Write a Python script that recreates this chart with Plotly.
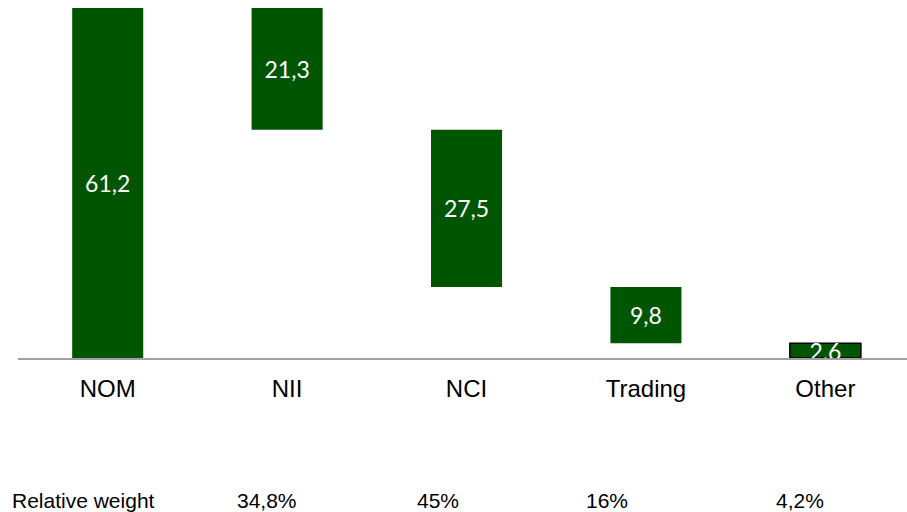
import plotly.graph_objects as go

categories = ["NOM", "NII", "NCI", "Trading", "Other"]
values = [61.2, 21.3, 27.5, 9.8, 2.6]
weight_labels = ["Relative weight", "34,8%", "45%", "16%", "4,2%"]

# waterfall bases: first bar is total, the rest step down
bases = [0.0]
level = values[0]
for v in values[1:]:
    level = level - v
    bases.append(round(level, 2))

labels = [f"{v:.1f}".replace(".", ",") for v in values]
green = "#005500"
line_colors = ["rgba(0,0,0,0)"] * 4 + ["#000000"]
line_widths = [0, 0, 0, 0, 1.5]

fig = go.Figure()
fig.add_trace(go.Bar(
    x=categories, y=values, base=bases,
    marker=dict(color=green, line=dict(color=line_colors, width=line_widths)),
    width=0.396,
    text=labels, textposition="inside", insidetextanchor="middle",
    constraintext="none",
    textfont=dict(family="Lato", size=23, color="white"),
    hoverinfo="skip",
))

L, T, B = 18, 8, 154
fig.update_layout(
    width=907, height=512,
    margin=dict(l=L, r=0, t=T, b=B, autoexpand=False),
    paper_bgcolor="white", plot_bgcolor="white",
    showlegend=False,
    xaxis=dict(range=[-0.5, 4.455], showline=True, linecolor="#a0a0a0", linewidth=1.5,
               showgrid=False, zeroline=False, ticks="", ticklabelstandoff=8,
               tickfont=dict(family="Liberation Sans", size=24, color="black")),
    yaxis=dict(range=[0, 61.2], visible=False, showgrid=False, zeroline=False),
)

# relative weight row (pixel positions converted to paper coordinates)
pw = 907 - L
ph = 512 - T - B
wx = [10, 267, 437.5, 607, 800]
for i, (t, xp) in enumerate(zip(weight_labels, wx)):
    fig.add_annotation(
        x=(xp - L) / pw, y=(512 - B - 500) / ph, xref="paper", yref="paper",
        text=t, showarrow=False,
        xanchor="left" if i == 0 else "center", yanchor="middle",
        font=dict(family="Liberation Sans", size=21, color="black"),
    )

fig.write_html("out.html", config={"displayModeBar": False},
               post_script="document.body.style.margin='0';document.body.style.overflow='hidden';")
